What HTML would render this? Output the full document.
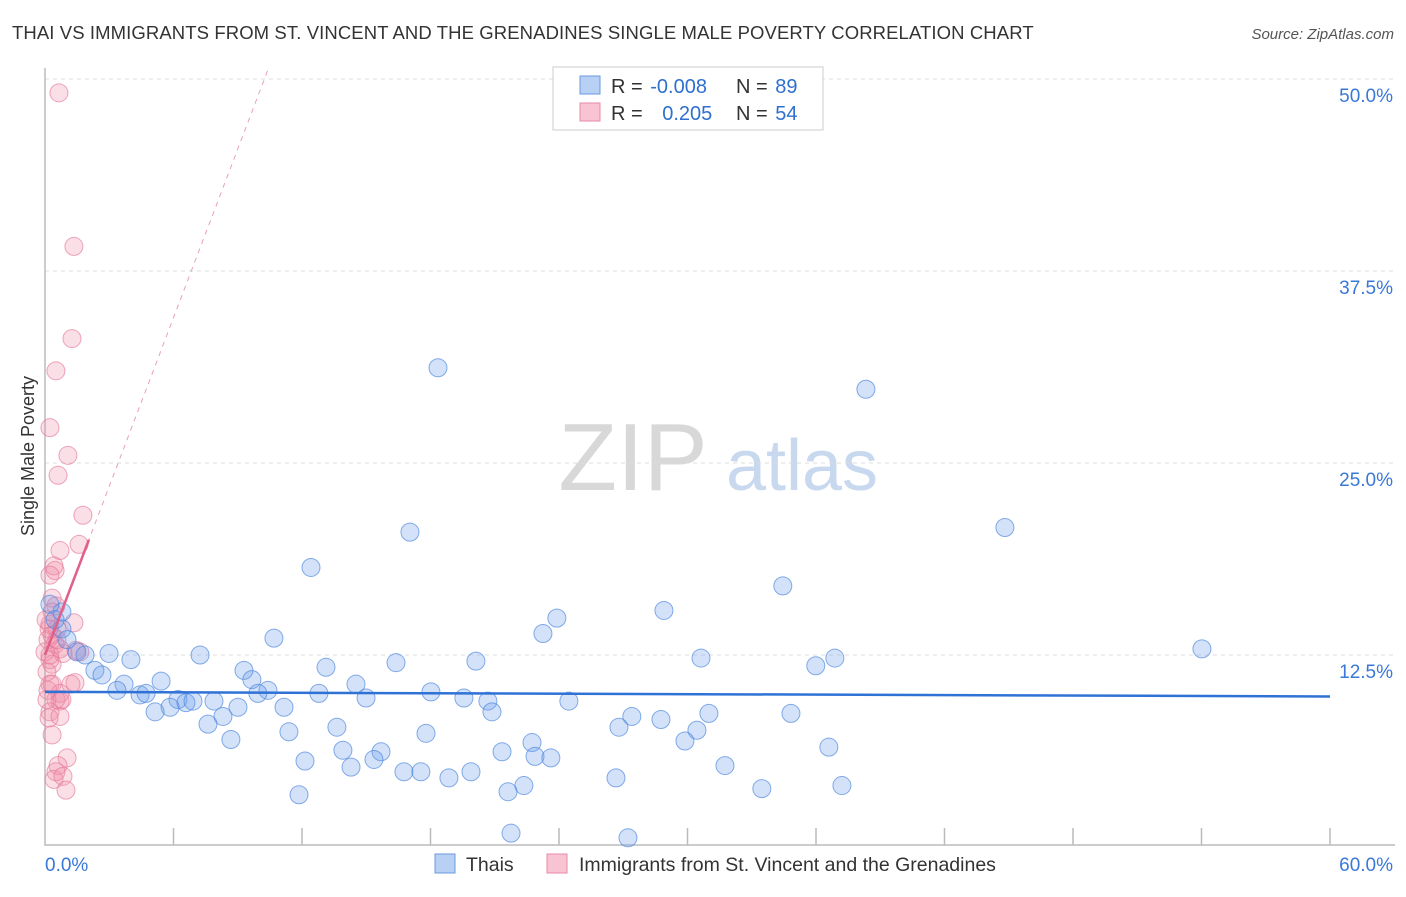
<!DOCTYPE html>
<html><head><meta charset="utf-8"><style>
body{margin:0;background:#fff;font-family:"Liberation Sans",sans-serif;}
svg text{font-family:"Liberation Sans",sans-serif;}
</style></head><body>
<svg id="chart" width="1406" height="892" viewBox="0 0 1406 892">
<text x="12" y="39" font-size="18.5" fill="#333" letter-spacing="0.1">THAI VS IMMIGRANTS FROM ST. VINCENT AND THE GRENADINES SINGLE MALE POVERTY CORRELATION CHART</text>
<text x="1394" y="39" font-size="15" fill="#555" text-anchor="end" font-style="italic">Source: ZipAtlas.com</text>
<g>
<text x="633" y="490" font-size="96" fill="#d8d8d8" text-anchor="middle" font-family="Liberation Serif, serif">ZIP</text>
<text x="802" y="490" font-size="72" fill="#c8d8ee" text-anchor="middle">atlas</text>
</g>
<g id="grid"></g>
<g id="axes"></g>
<g id="marks"></g>
<text transform="translate(34,456) rotate(-90)" font-size="18" fill="#333" text-anchor="middle">Single Male Poverty</text>
<g>
<rect x="553" y="67" width="270" height="63" fill="#fff" stroke="#ccc"/>
<rect x="580" y="76" width="20" height="18" fill="#b8d0f4" stroke="#6a9ae0"/>
<rect x="580" y="103" width="20" height="18" fill="#f8c4d4" stroke="#e889a6"/>
<text x="611" y="93" font-size="20" fill="#333">R = <tspan fill="#2f6fd0" dx="2">-0.008</tspan></text>
<text x="736" y="93" font-size="20" fill="#333">N = <tspan fill="#2f6fd0" dx="2">89</tspan></text>
<text x="611" y="120" font-size="20" fill="#333">R = <tspan fill="#2f6fd0" dx="14">0.205</tspan></text>
<text x="736" y="120" font-size="20" fill="#333">N = <tspan fill="#2f6fd0" dx="2">54</tspan></text>
</g>
<g>
<rect x="435" y="854" width="20" height="19" fill="#b8d0f4" stroke="#6a9ae0"/>
<text x="466" y="871" font-size="19.5" fill="#333">Thais</text>
<rect x="547" y="854" width="20" height="19" fill="#f8c4d4" stroke="#e889a6"/>
<text x="579" y="871" font-size="19.5" fill="#333">Immigrants from St. Vincent and the Grenadines</text>
</g>
</svg>
<script>
const yTicks=[12.5,25,37.5,50];
const yTickLabels=["12.5%","25.0%","37.5%","50.0%"];
const xTickLabels=["0.0%","60.0%"];
const thaiX=[18.35,38.33,17.04,44.82,12.42,34.45,28.90,23.90,23.25,10.69,54.02,2.99,4.01,7.24,20.12,30.63,36.88,16.39,35.99,13.12,9.29,9.66,5.42,14.52,3.69,10.41,3.36,4.44,4.72,18.02,12.79,6.21,6.58,6.91,7.89,9.94,19.56,20.68,24.46,14.99,5.84,5.14,9.01,11.16,20.87,27.40,28.76,31.00,34.83,8.31,7.61,26.80,13.63,11.39,30.44,17.79,8.68,29.88,22.74,36.60,13.91,15.69,21.34,15.36,22.88,23.62,12.14,14.29,31.75,16.76,17.55,19.89,18.86,26.66,22.36,33.47,37.21,21.62,11.86,21.76,27.22,0.79,0.79,1.03,1.49,1.87,2.33,2.66,0.23,0.47];
const thaiY=[31.2,29.8,20.5,20.8,18.2,17.0,15.4,14.9,13.9,13.6,12.9,12.6,12.2,12.5,12.1,12.3,12.3,12.0,11.8,11.7,11.5,10.9,10.8,10.6,10.6,10.2,10.2,9.9,10.0,10.1,10.0,9.6,9.4,9.5,9.5,10.0,9.7,9.5,9.5,9.7,9.1,8.8,9.1,9.1,8.8,8.5,8.3,8.7,8.7,8.5,8.0,7.8,7.8,7.5,7.6,7.4,7.0,6.9,6.8,6.5,6.3,6.2,6.2,5.7,5.9,5.8,5.6,5.2,5.3,4.9,4.9,4.9,4.5,4.5,4.0,3.8,4.0,3.6,3.4,0.9,0.6,15.3,14.2,13.5,12.7,12.5,11.5,11.2,15.8,14.8];
const immX=[0.65,1.35,1.26,0.51,0.23,1.07,0.61,1.77,1.59,0.70,0.42,0.47,0.23,0.33,0.51,1.35,0.23,0.33,0.14,0.47,0.70,0.84,0.23,0.33,0.09,0.14,0.70,0.51,0.70,0.23,0.19,0.70,0.33,1.03,0.61,0.51,0.42,0.84,0.98,0.09,0.23,1.40,1.21,1.63,1.45,0.56,0.19,0.33,0,0.23,0.05,0.56,0.33,0.79];
const immY=[49.1,39.1,33.1,31.0,27.3,25.5,24.2,21.6,19.7,19.3,18.3,18.0,17.7,16.2,15.7,14.6,14.5,13.8,13.5,13.2,12.9,12.6,12.2,11.9,11.4,10.2,10.0,9.6,9.5,8.8,8.4,8.5,7.3,5.8,5.3,4.9,4.4,4.6,3.7,9.6,10.6,10.7,10.6,12.7,12.8,14.2,14.2,15.3,12.7,12.5,14.8,13.5,10.6,9.6];
const thaiTrend=[10.1,9.8];
const immTrend=[12.5,3.66];
const NS='http://www.w3.org/2000/svg';
const X0=45,X1=1330,Y0=847;
const xs=v=>X0+v*(X1-X0)/60;
const ys=v=>Y0-v*15.36;
function mk(tag,attrs,parent){const e=document.createElementNS(NS,tag);for(const k in attrs)e.setAttribute(k,attrs[k]);parent.appendChild(e);return e;}
const grid=document.getElementById('grid'),axes=document.getElementById('axes'),marks=document.getElementById('marks');
yTicks.forEach((t,i)=>{
 const l=mk('line',{x1:X0,x2:1395,y1:ys(t),y2:ys(t),stroke:'#ddd','stroke-dasharray':'4,4'},grid);
 
 
 const tx=mk('text',{x:1393,y:ys(t)+23,'font-size':19,fill:'#3a78d8','text-anchor':'end'},axes);
 tx.textContent=yTickLabels[i];
 
 
});
const ax=mk('path',{d:`M${X0} 68V845H1395`,stroke:'#bbb',fill:'none','stroke-width':1.5},axes);


for(let i=1;i<=10;i++){const x=xs(i*6);const t=mk('line',{x1:x,x2:x,y1:828,y2:845,stroke:'#bbb','stroke-width':1.5},axes);
 
 }
[[45,'start',0],[1393,'end',1]].forEach(([x,a,i])=>{const t=mk('text',{x:x,y:871,'font-size':19,fill:'#3a78d8','text-anchor':a},axes);t.textContent=xTickLabels[i];
 
 });
function pts(X,Y,fill,stroke,name){X.forEach((v,i)=>{const c=mk('circle',{cx:xs(v),cy:ys(Y[i]),r:9,fill:fill,stroke:stroke,'stroke-width':1},marks);
 
 });}
pts(immX,immY,'rgba(240,140,170,0.28)','rgba(228,120,155,0.65)','immigrant-point');
pts(thaiX,thaiY,'rgba(110,160,235,0.3)','rgba(70,130,220,0.65)','thai-point');
const tl=mk('line',{x1:xs(0),y1:ys(thaiTrend[0]),x2:xs(60),y2:ys(thaiTrend[1]),stroke:'#2f72d6','stroke-width':2.5},marks);


const pd=mk('line',{x1:xs(0),y1:ys(immTrend[0]),x2:xs(10.4),y2:ys(immTrend[0]+immTrend[1]*10.4),stroke:'#eba0b8','stroke-width':1,'stroke-dasharray':'5,5'},marks);


const ps=mk('line',{x1:xs(0),y1:ys(immTrend[0]),x2:xs(2.05),y2:ys(immTrend[0]+immTrend[1]*2.05),stroke:'#e0608a','stroke-width':2.5},marks);


</script>
</body></html>
